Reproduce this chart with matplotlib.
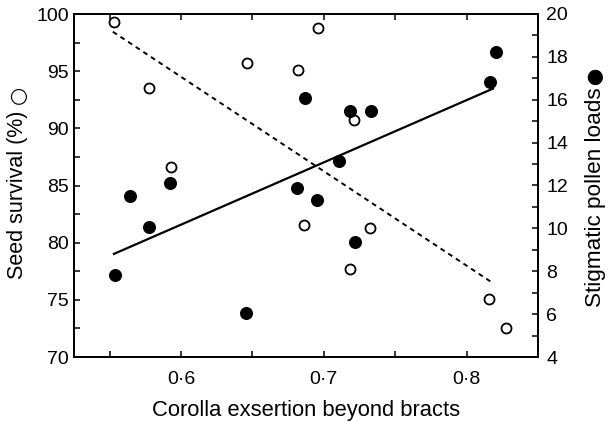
"""
Seed survival and stigmatic pollen loads vs corolla exsertion
"""

import numpy as np
import matplotlib
matplotlib.use("Agg")
import matplotlib.pyplot as plt
from matplotlib.ticker import MultipleLocator, FixedLocator

plt.rcParams['font.family'] = ['Liberation Sans', 'DejaVu Sans']

# Seed survival (open circles, left axis)
seed_x = [0.553, 0.5775, 0.5928, 0.646, 0.6816, 0.696, 0.6863, 0.7214,
          0.7184, 0.7324, 0.8157, 0.8274]
seed_y = [99.3, 93.55, 86.64, 95.74, 95.07, 98.8, 81.54, 90.73,
          77.66, 81.3, 75.07, 72.5]

# Stigmatic pollen loads (filled circles, right axis)
pollen_x = [0.6865, 0.5642, 0.592, 0.5775, 0.5537, 0.6458, 0.6809, 0.6953,
            0.7109, 0.7184, 0.733, 0.8165, 0.8205, 0.7219]
pollen_y = [16.07, 11.53, 12.13, 10.08, 7.83, 6.07, 11.88, 11.32,
            13.14, 15.49, 15.48, 16.81, 18.21, 9.38]

# Regression line ends (as drawn in the figure)
seed_fit_x = [0.5522, 0.818]
seed_fit_y = [98.45, 76.5]
pollen_fit_x = [0.553, 0.8185]
pollen_fit_y = [8.81, 16.52]

xticks = [0.6, 0.7, 0.8]
xticklabels = ['0·6', '0·7', '0·8']

W, H = 610, 423
fig = plt.figure(figsize=(W / 100, H / 100), dpi=100)
ax = fig.add_axes([74 / W, 66 / H, 464 / W, 343 / H])
ax2 = ax.twinx()

# Open circles + dashed fit
ax.plot(seed_fit_x, seed_fit_y, color='black', lw=1.4, ls=(0, (2.5, 2.2)))
ax.scatter(seed_x, seed_y, s=52, facecolor='white', edgecolor='black',
           linewidth=1.3, zorder=3)

# Filled circles + solid fit
ax2.plot(pollen_fit_x, pollen_fit_y, color='black', lw=1.6)
ax2.scatter(pollen_x, pollen_y, s=70, color='black', zorder=3)

ax.set_xlim(0.525, 0.85)
ax.set_ylim(70, 100)
ax2.set_ylim(4, 20)

ax.xaxis.set_major_locator(FixedLocator(xticks))
ax.set_xticklabels(xticklabels)
ax.xaxis.set_minor_locator(FixedLocator([0.55, 0.65, 0.75]))
ax.yaxis.set_major_locator(MultipleLocator(5))
ax.yaxis.set_minor_locator(MultipleLocator(2.5))
ax2.yaxis.set_major_locator(MultipleLocator(2))
ax2.yaxis.set_minor_locator(MultipleLocator(1))

ax.tick_params(axis='both', which='both', direction='in', length=4, width=1.1,
               top=True, labelsize=14)
ax.tick_params(axis='x', pad=10)
ax2.tick_params(axis='y', which='both', direction='in', length=4, width=1.1,
                labelsize=14, pad=6)
for a in (ax, ax2):
    for sp in a.spines.values():
        sp.set_linewidth(1.3)

ax.set_xlabel('Corolla exsertion beyond bracts', fontsize=15.8, labelpad=9)
ax.set_ylabel('Seed survival (%)', fontsize=15.5, labelpad=6)
ax2.set_ylabel('Stigmatic pollen loads', fontsize=16.2, labelpad=12)
# leave room for the symbol keys above the labels
ax.yaxis.label.set_y(0.5 - 9 / 343)
ax2.yaxis.label.set_y(0.5 - 12 / 343)

# symbol keys at the end of the y labels
fig.canvas.draw()
r = fig.canvas.get_renderer()
bl = ax.yaxis.label.get_window_extent(r)
br = ax2.yaxis.label.get_window_extent(r)
fig.text((bl.x0 + bl.x1) / 2 / W, (bl.y1 + 6) / H, '○', rotation=90,
         ha='center', va='bottom', fontsize=15, fontweight='bold',
         family=['DejaVu Sans'])
fig.text((br.x0 + br.x1) / 2 / W, (br.y1 + 3) / H, '⬤', rotation=90,
         ha='center', va='bottom', fontsize=11, family=['DejaVu Sans'])

fig.savefig('out.png', dpi=100)
